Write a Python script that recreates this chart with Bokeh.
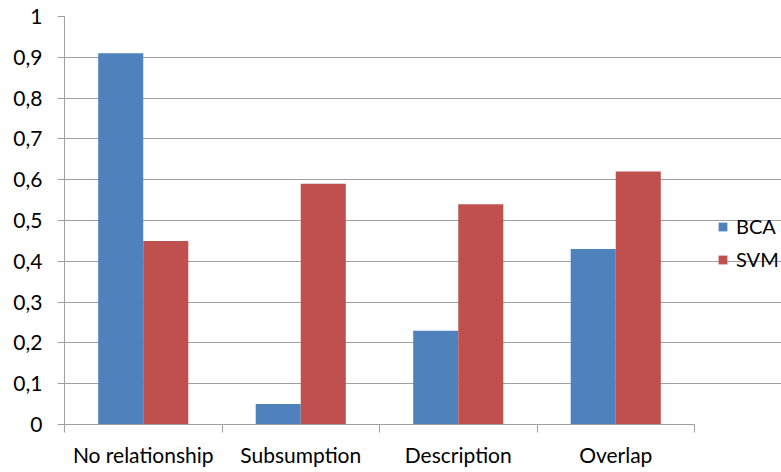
from bokeh.plotting import figure
from bokeh.models import (Range1d, LinearAxis, FixedTicker,
                          CustomJSTickFormatter, Legend, LegendItem, ColumnDataSource)
from bokeh.embed import file_html
from bokeh.resources import INLINE

categories = ["No relationship", "Subsumption", "Description", "Overlap"]
bca = [0.91, 0.05, 0.23, 0.43]
svm = [0.45, 0.59, 0.54, 0.62]
series_names = ["BCA", "SVM"]
y_ticks = [0, 0.1, 0.2, 0.3, 0.4, 0.5, 0.6, 0.7, 0.8, 0.9, 1]

FONT = "Lato"
FS = "21px"
GRID = "#a0a0a0"
BLUE = "#4f81bd"
RED = "#c0504d"

n = len(categories)
centers = [i + 0.5 for i in range(n)]
bw = 0.286
src = ColumnDataSource(dict(xb=[c - bw / 2 for c in centers], xs=[c + bw / 2 for c in centers],
                            bca=bca, svm=svm))

# plot area 630 px wide for the categories; frame extended to the right for the legend
PLOT_W = 630
FRAME_W = 781 - 64
p = figure(width=781, height=472, x_range=Range1d(0, n * FRAME_W / PLOT_W),
           y_range=Range1d(0, 1), output_backend="svg", toolbar_location=None,
           x_axis_location=None, y_axis_location=None,
           min_border_left=64, min_border_right=0, min_border_top=16, min_border_bottom=48)
p.outline_line_color = None
p.xgrid.visible = False
p.ygrid.grid_line_color = GRID
p.ygrid.ticker = FixedTicker(ticks=y_ticks)
p.ygrid.bounds = (0, n)

r1 = p.vbar(x="xb", top="bca", width=bw, source=src, fill_color=BLUE, line_color=None)
r2 = p.vbar(x="xs", top="svm", width=bw, source=src, fill_color=RED, line_color=None)

# y axis
yax = LinearAxis(ticker=FixedTicker(ticks=y_ticks),
                 formatter=CustomJSTickFormatter(code="""
                    let s = tick.toFixed(1).replace('.', ',');
                    if (s.endsWith(',0')) s = s.slice(0, -2);
                    return s;"""))
yax.axis_line_color = GRID
yax.major_tick_line_color = GRID
yax.major_tick_out = 7
yax.major_tick_in = 0
yax.minor_tick_line_color = None
yax.major_label_standoff = 15
yax.major_label_text_font = FONT
yax.major_label_text_font_size = FS
yax.major_label_text_color = "#000000"
p.add_layout(yax, "left")

# x axis: labels at category centres, boundary ticks as minor ticks
xax = LinearAxis(ticker=FixedTicker(ticks=centers, minor_ticks=list(range(n + 1))),
                 major_label_overrides={c: name for c, name in zip(centers, categories)},
                 bounds=(0, n))
xax.axis_line_color = GRID
xax.major_tick_line_color = None
xax.major_tick_out = 8
xax.major_tick_in = 0
xax.minor_tick_line_color = GRID
xax.minor_tick_out = 8
xax.minor_tick_in = 0
xax.major_label_standoff = 9
xax.major_label_text_font = FONT
xax.major_label_text_font_size = FS
xax.major_label_text_color = "#000000"
p.add_layout(xax, "below")

legend = Legend(items=[LegendItem(label=series_names[0], renderers=[r1]),
                       LegendItem(label=series_names[1], renderers=[r2])],
                location=(653, 153), orientation="vertical")
legend.border_line_color = None
legend.background_fill_alpha = 0
legend.padding = 0
legend.margin = 0
legend.glyph_width = 11
legend.glyph_height = 11
legend.label_standoff = 8
legend.label_height = 20
legend.spacing = 9
legend.label_text_font = FONT
legend.label_text_font_size = "20px"
legend.label_text_color = "#000000"
p.add_layout(legend, "center")

open("out.html", "w").write(file_html(p, INLINE))
